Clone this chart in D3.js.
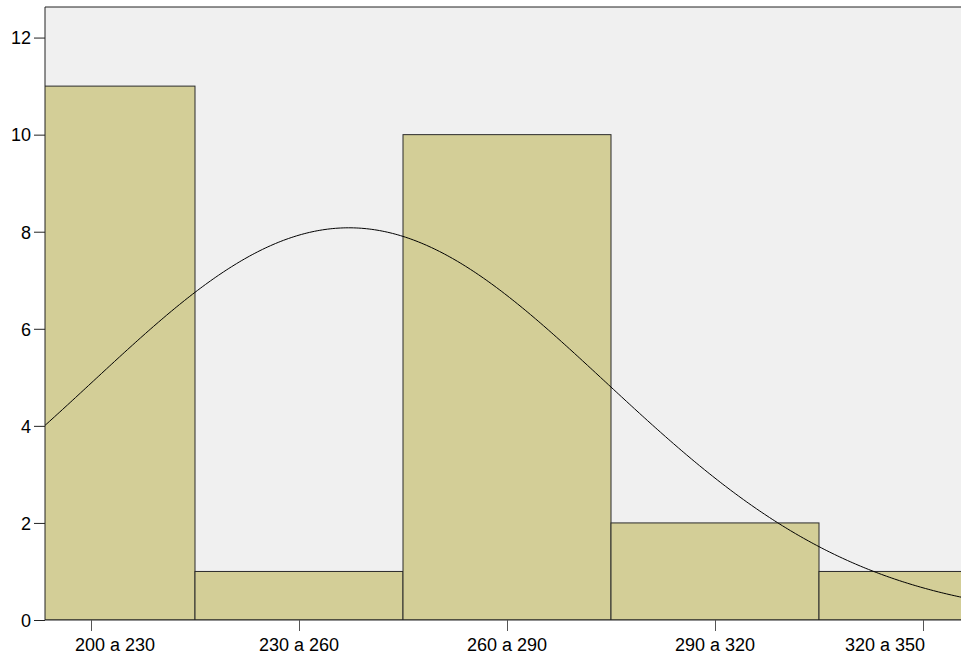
<!DOCTYPE html>
<html>
<head>
<meta charset="utf-8">
<script src="https://cdn.jsdelivr.net/npm/d3@7"></script>
<style>
  body { margin: 0; background: #fff; }
  svg { display: block; font-family: "Liberation Sans", Arial, sans-serif; }
</style>
</head>
<body>
<div id="chart"></div>
<script>
const binLabels = ['200 a 230', '230 a 260', '260 a 290', '290 a 320', '320 a 350'];
const binStarts = [200, 230, 260, 290, 320];
const binWidth = 30;
const counts = [11, 1, 10, 2, 1];
const yTicks = [0, 2, 4, 6, 8, 10, 12];

const W = 961, H = 656;
const margin = { t: 7, r: 0, b: 36, l: 45 };
const iw = W - margin.l - margin.r;
const ih = H - margin.t - margin.b;

// x in data units, first and last bins run past the frame
const scaleX = d3.scaleLinear().domain([200, 350]).range([-13 - margin.l, 1027 - margin.l]);
const scaleY = d3.scaleLinear().domain([0, 12.63]).range([ih, 0]);

// normal fit from the binned counts
const n = d3.sum(counts);
const mids = binStarts.map(s => s + binWidth / 2);
const mean = d3.sum(mids, (m, i) => m * counts[i]) / n;
const sd = Math.sqrt(d3.sum(mids, (m, i) => counts[i] * (m - mean) ** 2) / (n - 1));
const density = v => n * binWidth / (sd * Math.sqrt(2 * Math.PI)) * Math.exp(-0.5 * ((v - mean) / sd) ** 2);

const svg = d3.select('#chart').append('svg')
  .attr('width', W)
  .attr('height', H);

svg.append('defs').append('clipPath')
  .attr('id', 'plot-clip')
  .append('rect')
  .attr('width', iw)
  .attr('height', ih);

const g = svg.append('g')
  .attr('transform', `translate(${margin.l}, ${margin.t})`);

g.append('rect')
  .attr('width', iw)
  .attr('height', ih)
  .attr('fill', '#f0f0f0');

const plot = g.append('g').attr('clip-path', 'url(#plot-clip)');

plot.selectAll('.bar')
  .data(counts)
  .enter().append('rect')
  .attr('class', 'bar')
  .attr('x', (d, i) => scaleX(binStarts[i]))
  .attr('width', (d, i) => scaleX(binStarts[i] + binWidth) - scaleX(binStarts[i]))
  .attr('y', d => scaleY(d))
  .attr('height', d => scaleY(0) - scaleY(d))
  .attr('fill', '#d3ce97')
  .attr('stroke', '#2b2b2b')
  .attr('stroke-width', 1);

const curvePts = d3.range(0, 401).map(k => {
  const v = 200 + k * 150 / 400;
  return [v, density(v)];
});

plot.append('path')
  .datum(curvePts)
  .attr('fill', 'none')
  .attr('stroke', '#000')
  .attr('stroke-width', 1)
  .attr('d', d3.line().x(d => scaleX(d[0])).y(d => scaleY(d[1])));

// frame: left, top, bottom
g.append('path')
  .attr('d', `M0,${ih}V0H${iw}`)
  .attr('fill', 'none')
  .attr('stroke', '#222')
  .attr('stroke-width', 1);

// y axis
const yAxis = g.append('g')
  .call(d3.axisLeft(scaleY).tickValues(yTicks).tickSize(11).tickPadding(3).tickFormat(d3.format('d')));
yAxis.select('.domain').remove();
yAxis.selectAll('line').attr('stroke', '#222');
yAxis.selectAll('text')
  .attr('fill', '#000')
  .style('font-size', '18px')
  .attr('dy', '0.35em');

// x axis: ticks at bin centres
const xAxis = g.append('g')
  .attr('transform', `translate(0, ${ih})`)
  .call(d3.axisBottom(scaleX).tickValues(mids).tickSize(11).tickFormat(''));
xAxis.select('.domain').attr('stroke', '#222').attr('d', `M0,0H${iw}`);
xAxis.selectAll('line').attr('stroke', '#555');

// labels: centred on the tick, or on the visible part of a clipped bin
xAxis.selectAll('.bin-label')
  .data(binLabels)
  .enter().append('text')
  .attr('class', 'bin-label')
  .attr('x', (d, i) => {
    const a = scaleX(binStarts[i]);
    const b = scaleX(binStarts[i] + binWidth);
    if (a >= 0 && b <= iw) return (a + b) / 2;
    return (Math.max(0, a) + Math.min(iw, b)) / 2 - 5;
  })
  .attr('y', 31)
  .attr('text-anchor', 'middle')
  .attr('fill', '#000')
  .style('font-size', '18px')
  .text(d => d);
</script>
</body>
</html>
